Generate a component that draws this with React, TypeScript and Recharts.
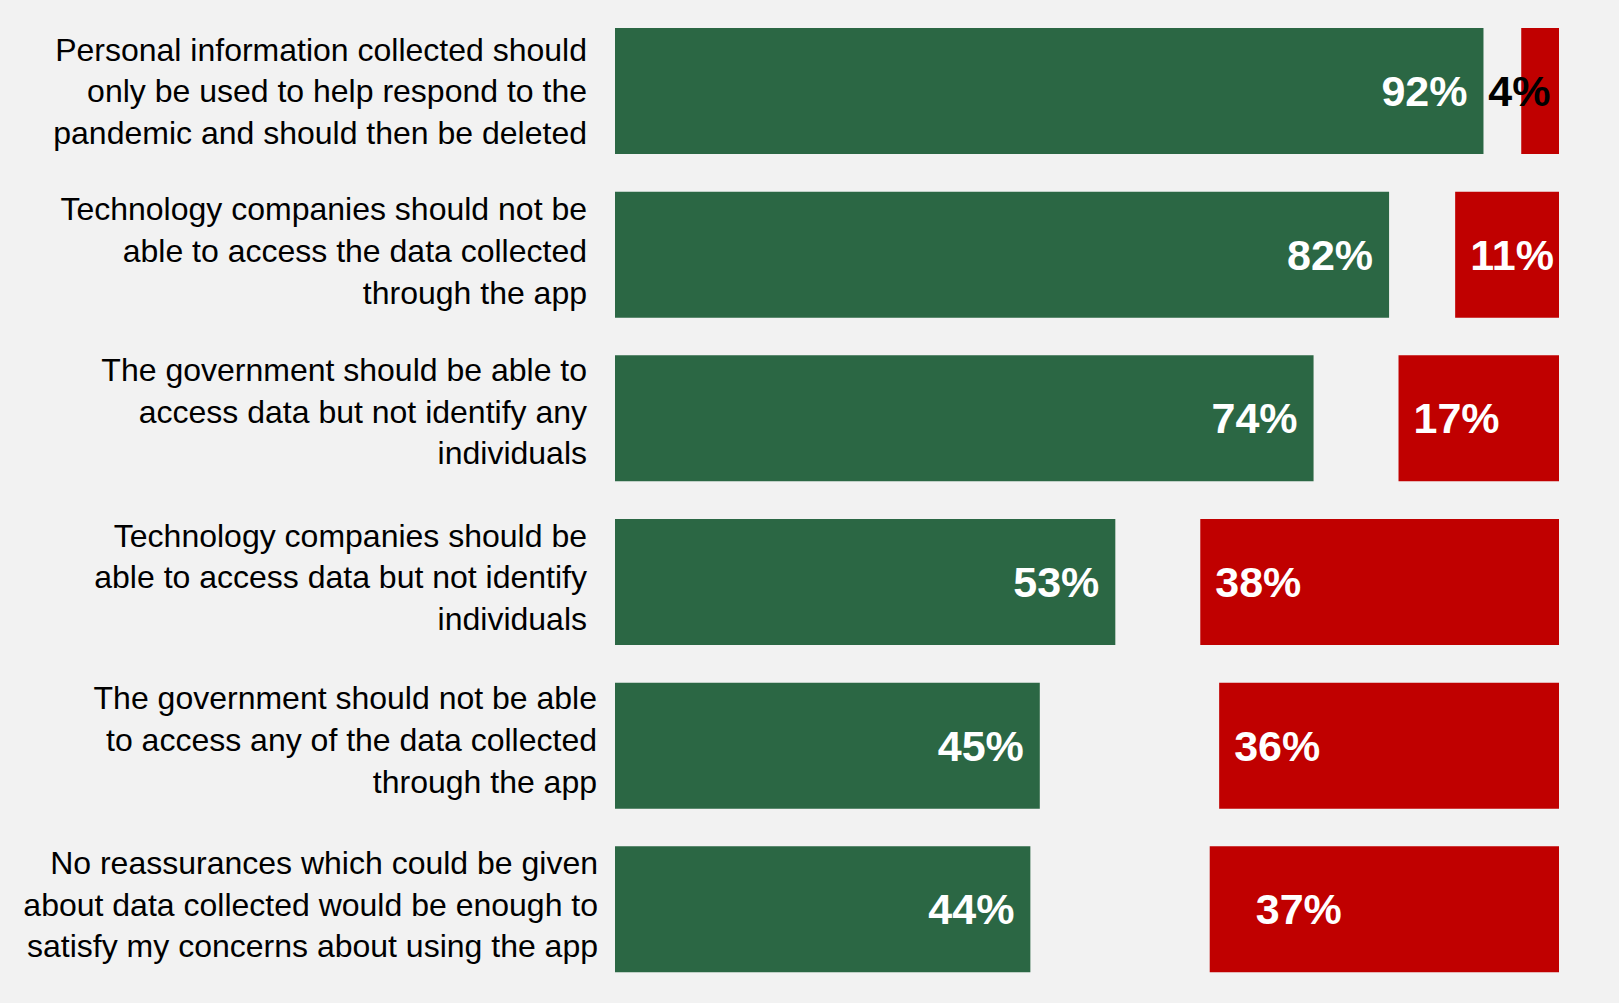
import React from 'react';
import { BarChart, Bar, XAxis, YAxis, LabelList } from 'recharts';

const categories = [
  'Personal information collected should\nonly be used to help respond to the\npandemic and should then be deleted',
  'Technology companies should not be\nable to access the data collected\nthrough the app',
  'The government should be able to\naccess data but not identify any\nindividuals',
  'Technology companies should be\nable to access data but not identify\nindividuals',
  'The government should not be able\nto access any of the data collected\nthrough the app',
  'No reassurances which could be given\nabout data collected would be enough to\nsatisfy my concerns about using the app',
];
const agree = [92, 82, 74, 53, 45, 44];
const disagree = [4, 11, 17, 38, 36, 37];

const data = categories.map((category, i) => ({
  category,
  agree: agree[i],
  gap: 100 - agree[i] - disagree[i],
  disagree: disagree[i],
}));

// style constants
const FONT = '"Liberation Sans", Arial, Helvetica, sans-serif';
const GREEN = '#2B6744';
const RED = '#C00000';
const BG = '#F2F2F2';
const tickDx = [0, 0, 0, 0, 10, 11];
const tickDy = [5, 1, -2, 0, -1, 0];
const redNudge = [-48, 0, 0, 0, 0, 31];

const CategoryTick = (props: any) => {
  const { x, y, payload, index } = props;
  const lines = String(payload.value).split('\n');
  const lh = 41.7;
  const tx = x - 28 + (tickDx[index] || 0);
  const mid = y + 6.5 + (tickDy[index] || 0);
  const first = mid - ((lines.length - 1) / 2) * lh;
  return (
    <text x={tx} y={first} textAnchor="end" fontSize={32} fontFamily={FONT} fill="#000">
      {lines.map((l, i) => (
        <tspan key={i} x={tx} y={first + i * lh}>
          {l}
        </tspan>
      ))}
    </text>
  );
};

const GreenLabel = (props: any) => {
  const { x, y, width, height, value } = props;
  return (
    <text
      x={x + width - 16}
      y={y + height / 2}
      textAnchor="end"
      dominantBaseline="central"
      fontSize={43}
      fontWeight="bold"
      fontFamily={FONT}
      fill="#fff"
    >
      {value}%
    </text>
  );
};

const RedLabel = (props: any) => {
  const { x, y, height, value, index } = props;
  const outside = value < 6;
  return (
    <text
      x={x + 15 + (redNudge[index] || 0)}
      y={y + height / 2}
      textAnchor="start"
      dominantBaseline="central"
      fontSize={43}
      fontWeight="bold"
      fontFamily={FONT}
      fill={outside ? '#000' : '#fff'}
    >
      {value}%
    </text>
  );
};

export default function App() {
  return (
    <div style={{ width: 1619, height: 1003, background: BG }}>
      <style>{`body{margin:0;background:${BG};}`}</style>
      <BarChart
        width={1619}
        height={1003}
        data={data}
        layout="vertical"
        margin={{ top: 9, right: 60, bottom: 12, left: 0 }}
      >
        <XAxis type="number" domain={[0, 100]} hide />
        <YAxis
          type="category"
          dataKey="category"
          width={615}
          axisLine={false}
          tickLine={false}
          tickSize={0}
          tickMargin={0}
          interval={0}
          tick={<CategoryTick />}
        />
        <Bar dataKey="agree" stackId="a" fill={GREEN} barSize={126} isAnimationActive={false}>
          <LabelList dataKey="agree" content={<GreenLabel />} />
        </Bar>
        <Bar dataKey="gap" stackId="a" fill="transparent" barSize={126} isAnimationActive={false} />
        <Bar dataKey="disagree" stackId="a" fill={RED} barSize={126} isAnimationActive={false}>
          <LabelList dataKey="disagree" content={<RedLabel />} />
        </Bar>
      </BarChart>
    </div>
  );
}
